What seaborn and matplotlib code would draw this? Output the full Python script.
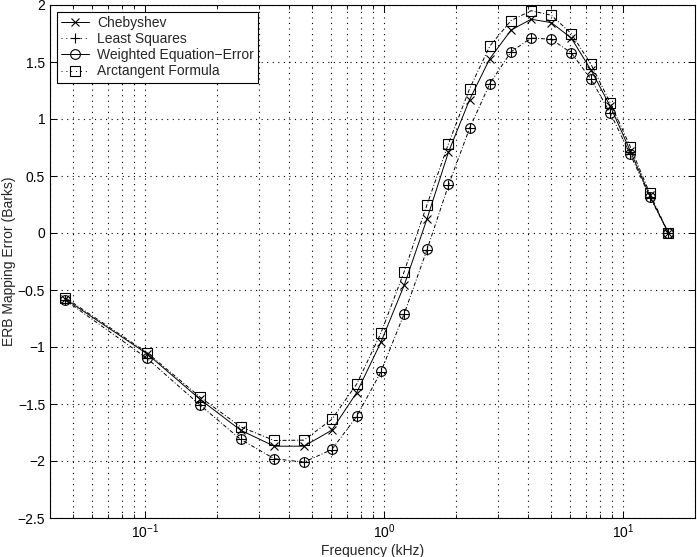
import matplotlib
matplotlib.use("Agg")
import matplotlib.pyplot as plt
import pandas as pd
import seaborn as sns
from matplotlib.lines import Line2D
from matplotlib.ticker import FixedLocator, FixedFormatter, LogLocator, NullFormatter


# marker frequencies (kHz)
FREQ_KHZ = [0.0464, 0.102, 0.170, 0.251, 0.347, 0.462, 0.604, 0.768, 0.969, 1.213,
            1.51, 1.86, 2.28, 2.77, 3.40, 4.12, 5.01, 6.07, 7.34, 8.85, 10.72, 12.92, 15.48]

CHEBYSHEV = [-0.58, -1.06, -1.46, -1.73, -1.87, -1.87, -1.73, -1.40, -0.96, -0.46,
             0.12, 0.71, 1.17, 1.53, 1.78, 1.875, 1.846, 1.71, 1.43, 1.11, 0.72, 0.33, 0.0]
LEAST_SQUARES = [-0.59, -1.10, -1.51, -1.81, -1.98, -2.01, -1.90, -1.61, -1.22, -0.71,
                 -0.15, 0.42, 0.92, 1.31, 1.59, 1.71, 1.70, 1.58, 1.35, 1.05, 0.69, 0.32, 0.0]
WEIGHTED_EQ_ERROR = [-0.59, -1.10, -1.505, -1.81, -1.98, -2.01, -1.895, -1.605, -1.214, -0.708,
                     -0.14, 0.43, 0.92, 1.31, 1.586, 1.707, 1.70, 1.58, 1.35, 1.05, 0.695, 0.32, 0.0]
ARCTANGENT = [-0.568, -1.05, -1.44, -1.70, -1.82, -1.817, -1.635, -1.325, -0.88, -0.34,
              0.244, 0.784, 1.266, 1.64, 1.864, 1.95, 1.91, 1.75, 1.48, 1.14, 0.757, 0.35, 0.0]

SERIES_NAMES = ["Chebyshev", "Least Squares", "Weighted Equation\u2212Error", "Arctangent Formula"]

Y_TICKS = [-2.5, -2, -1.5, -1, -0.5, 0, 0.5, 1, 1.5, 2]
Y_TICK_LABELS = ["\u22122.5", "\u22122", "\u22121.5", "\u22121", "\u22120.5", "0", "0.5", "1", "1.5", "2"]
X_LIMITS = (0.04, 20)
Y_LIMITS = (-2.5, 2)

DASH_DOT = (0, (4, 2, 1, 2))
STYLES = {
    "Chebyshev": dict(ls="-", marker="x", ms=5.5),
    "Least Squares": dict(ls=DASH_DOT, marker="+", ms=7),
    "Weighted Equation\u2212Error": dict(ls="none", marker="o", ms=7),
    "Arctangent Formula": dict(ls=DASH_DOT, marker="s", ms=6.5),
}
LEGEND_LS = {
    "Chebyshev": "-",
    "Least Squares": (0, (1, 4)),
    "Weighted Equation\u2212Error": "-",
    "Arctangent Formula": (0, (1, 4)),
}


def build_frame() -> pd.DataFrame:
    frames = []
    for name, values in zip(SERIES_NAMES, [CHEBYSHEV, LEAST_SQUARES, WEIGHTED_EQ_ERROR, ARCTANGENT]):
        frames.append(pd.DataFrame({"freq": FREQ_KHZ, "error": values, "method": name}))
    return pd.concat(frames, ignore_index=True)


def main() -> None:
    sns.set_style("ticks")
    plt.rcParams["font.family"] = ["Liberation Sans", "DejaVu Sans"]
    plt.rcParams["mathtext.fontset"] = "custom"
    plt.rcParams["mathtext.rm"] = "Liberation Sans"
    plt.rcParams["mathtext.it"] = "Liberation Sans:italic"
    plt.rcParams["font.size"] = 10

    df = build_frame()

    fig = plt.figure(figsize=(6.97, 5.57), dpi=100)
    ax = fig.add_axes([50 / 697, 39 / 557, 645 / 697, 513 / 557])

    for name in SERIES_NAMES:
        sub = df[df["method"] == name]
        st = STYLES[name]
        sns.lineplot(
            data=sub, x="freq", y="error", ax=ax, color="k", lw=0.7,
            linestyle=st["ls"], marker=st["marker"], markersize=st["ms"],
            mec="k", mfc="none", mew=0.8, errorbar=None, sort=False, legend=False,
        )

    ax.set_xscale("log")
    ax.set_xlim(*X_LIMITS)
    ax.set_ylim(*Y_LIMITS)
    ax.yaxis.set_major_locator(FixedLocator(Y_TICKS))
    ax.yaxis.set_major_formatter(FixedFormatter(Y_TICK_LABELS))
    ax.xaxis.set_major_locator(LogLocator(base=10))
    ax.xaxis.set_minor_locator(LogLocator(base=10, subs=range(2, 10)))
    ax.xaxis.set_minor_formatter(NullFormatter())

    grid_kw = dict(color="k", lw=0.8, ls=(0, (1, 4)))
    ax.grid(True, which="both", axis="x", **grid_kw)
    ax.grid(True, which="major", axis="y", **grid_kw)

    ax.tick_params(which="both", direction="in", top=True, right=True, colors="k", labelsize=10)
    ax.tick_params(which="major", length=5, width=0.7)
    ax.tick_params(which="minor", length=3, width=0.6)
    for spine in ax.spines.values():
        spine.set_visible(True)
        spine.set_color("k")
        spine.set_linewidth(0.8)

    ax.set_xlabel("Frequency (kHz)", fontsize=10, labelpad=2)
    ax.set_ylabel("ERB Mapping Error (Barks)", fontsize=10)
    ax.yaxis.set_label_coords(-34 / 645, 0.5)

    handles = []
    for name in SERIES_NAMES:
        st = STYLES[name]
        handles.append(Line2D([], [], color="k", lw=0.7, ls=LEGEND_LS[name], marker=st["marker"],
                              markersize=st["ms"], mec="k", mfc="none", mew=0.8))
    leg = ax.legend(handles, SERIES_NAMES, loc="upper left", bbox_to_anchor=(7 / 645, 1 - 7 / 513),
                    borderaxespad=0, fancybox=False, framealpha=1, edgecolor="k",
                    handlelength=2.0, handletextpad=0.6, labelspacing=0.15, borderpad=0.3, fontsize=10)
    leg.get_frame().set_linewidth(0.8)

    fig.savefig("out.png", dpi=100)


if __name__ == "__main__":
    main()
